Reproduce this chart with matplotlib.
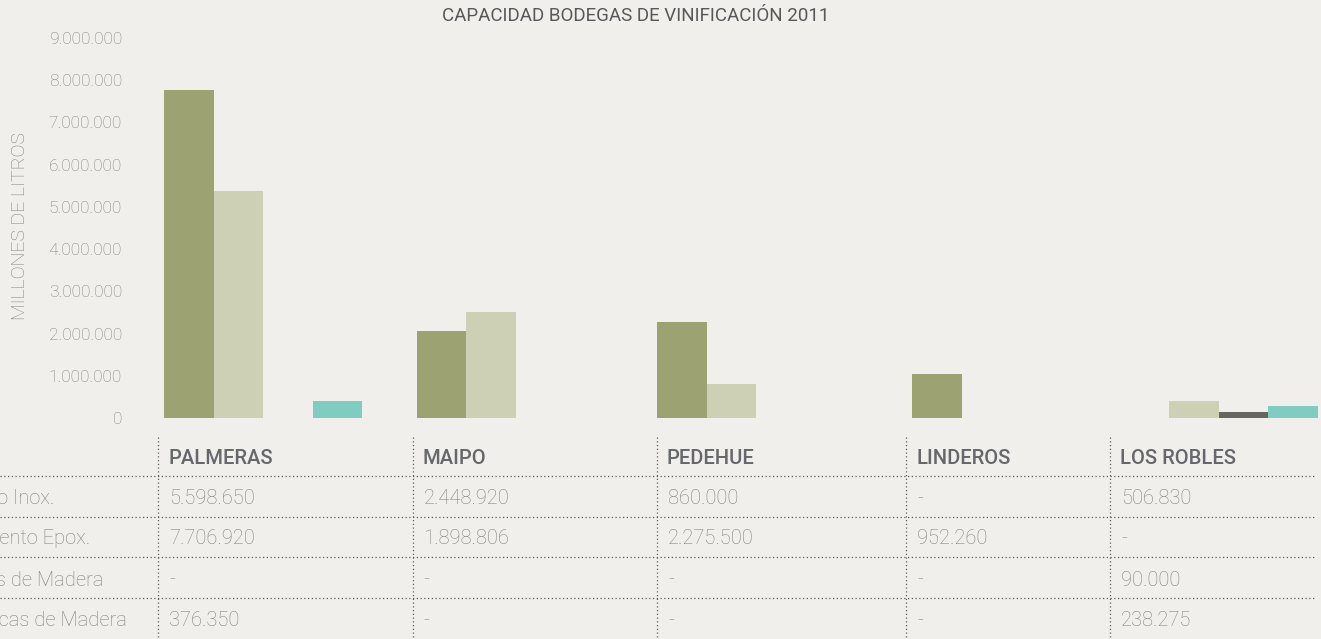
import matplotlib
matplotlib.use("Agg")
import matplotlib.pyplot as plt
from matplotlib.lines import Line2D
import numpy as np

# ---------------- data ----------------
title = "CAPACIDAD BODEGAS DE VINIFICACIÓN 2011"
ylabel = "MILLONES DE LITROS"
categories = ["PALMERAS", "MAIPO", "PEDEHUE", "LINDEROS", "LOS ROBLES"]

# bar heights
epox_bar = [7770000, 2060000, 2270000, 1040000, 0]
inox_bar = [5380000, 2510000, 810000, 0, 400000]
madera_bar = [0, 0, 0, 0, 140000]
barricas_bar = [400000, 0, 0, 0, 280000]

yticks = [0, 1e6, 2e6, 3e6, 4e6, 5e6, 6e6, 7e6, 8e6, 9e6]
ytick_labels = ["0", "1.000.000", "2.000.000", "3.000.000", "4.000.000",
                "5.000.000", "6.000.000", "7.000.000", "8.000.000", "9.000.000"]

row_labels = ["Acero Inox.", "Cemento Epox.", "Pipas de Madera", "Barricas de Madera"]
table_inox = ["5.598.650", "2.448.920", "860.000", "-", "506.830"]
table_epox = ["7.706.920", "1.898.806", "2.275.500", "952.260", "-"]
table_madera = ["-", "-", "-", "-", "90.000"]
table_barricas = ["376.350", "-", "-", "-", "238.275"]

# ---------------- layout / style ----------------
W, H = 1321, 639
BG = "#f0efeb"
C_EPOX = "#9da273"
C_INOX = "#cdd0b4"
C_MADERA = "#64665f"
C_BARR = "#80ccc0"
TXT_LIGHT = "#828282"
TXT_HEAD = "#66676c"
TXT_TITLE = "#58585a"
LINE_C = "#5e5e5e"

FONT = ["Roboto", "DejaVu Sans"]
plt.rcParams["font.family"] = FONT

group_left = [164, 416.5, 657, 912, 1119.5]   # pixel x of first bar in each group
bar_w = 49.5
col_x = [158, 412.5, 657, 906, 1110]           # table column separators (px)
row_lines_y = [476, 516.5, 557, 598]
header_y = 459
row_y = [499, 539, 580, 621]

fig = plt.figure(figsize=(W / 100, H / 100), dpi=100, facecolor=BG)


def fx(px):
    return px / W


def fy(py):
    return 1 - py / H


ax_left = 130
y0_px, y9_px = 418, 38
ax = fig.add_axes([fx(ax_left), fy(y0_px), 1 - fx(ax_left), (y0_px - y9_px) / H])
ax.set_facecolor(BG)
ax.set_xlim(ax_left, W)
ax.set_ylim(0, 9e6)

series = [(epox_bar, C_EPOX), (inox_bar, C_INOX), (madera_bar, C_MADERA), (barricas_bar, C_BARR)]
gl = np.array(group_left)
for j, (vals, col) in enumerate(series):
    ax.bar(gl + j * bar_w, vals, width=bar_w, align="edge", color=col, linewidth=0)

for s in ax.spines.values():
    s.set_visible(False)
ax.set_xticks([])
ax.set_yticks(yticks)
ax.set_yticklabels(ytick_labels)
ax.tick_params(axis="y", length=0, pad=5.8, labelsize=12.5, labelcolor=TXT_LIGHT)
for t in ax.get_yticklabels():
    t.set_fontweight("light")

# title & y label
fig.text(fx(636), fy(16), title, ha="center", va="center", fontsize=13.5,
         color=TXT_TITLE, fontweight="normal")
fig.text(fx(20), fy(226), ylabel, ha="center", va="center", rotation=90,
         fontsize=14, color=TXT_LIGHT, fontweight="light")

# ---------------- table ----------------
dot = (0, (1, 2))
for x in col_x:
    fig.add_artist(Line2D([fx(x), fx(x)], [fy(437), fy(H + 2)], transform=fig.transFigure,
                          color=LINE_C, lw=0.9, linestyle=dot))
for y in row_lines_y:
    fig.add_artist(Line2D([fx(0), fx(1315)], [fy(y), fy(y)], transform=fig.transFigure,
                          color=LINE_C, lw=0.9, linestyle=dot))

for x, cat in zip(col_x, categories):
    fig.text(fx(x + 10), fy(header_y), cat, ha="left", va="center", fontsize=14.5,
             color=TXT_HEAD, fontweight="medium")

rows = [table_inox, table_epox, table_madera, table_barricas]
for ry, lab, vals in zip(row_y, row_labels, rows):
    fig.text(fx(-42), fy(ry), lab, ha="left", va="center", fontsize=14.5,
             color=TXT_LIGHT, fontweight="light")
    for x, v in zip(col_x, vals):
        fig.text(fx(x + 11), fy(ry), v, ha="left", va="center", fontsize=14.5,
                 color=TXT_LIGHT, fontweight="light")

fig.savefig("out.png", dpi=100, facecolor=BG)
